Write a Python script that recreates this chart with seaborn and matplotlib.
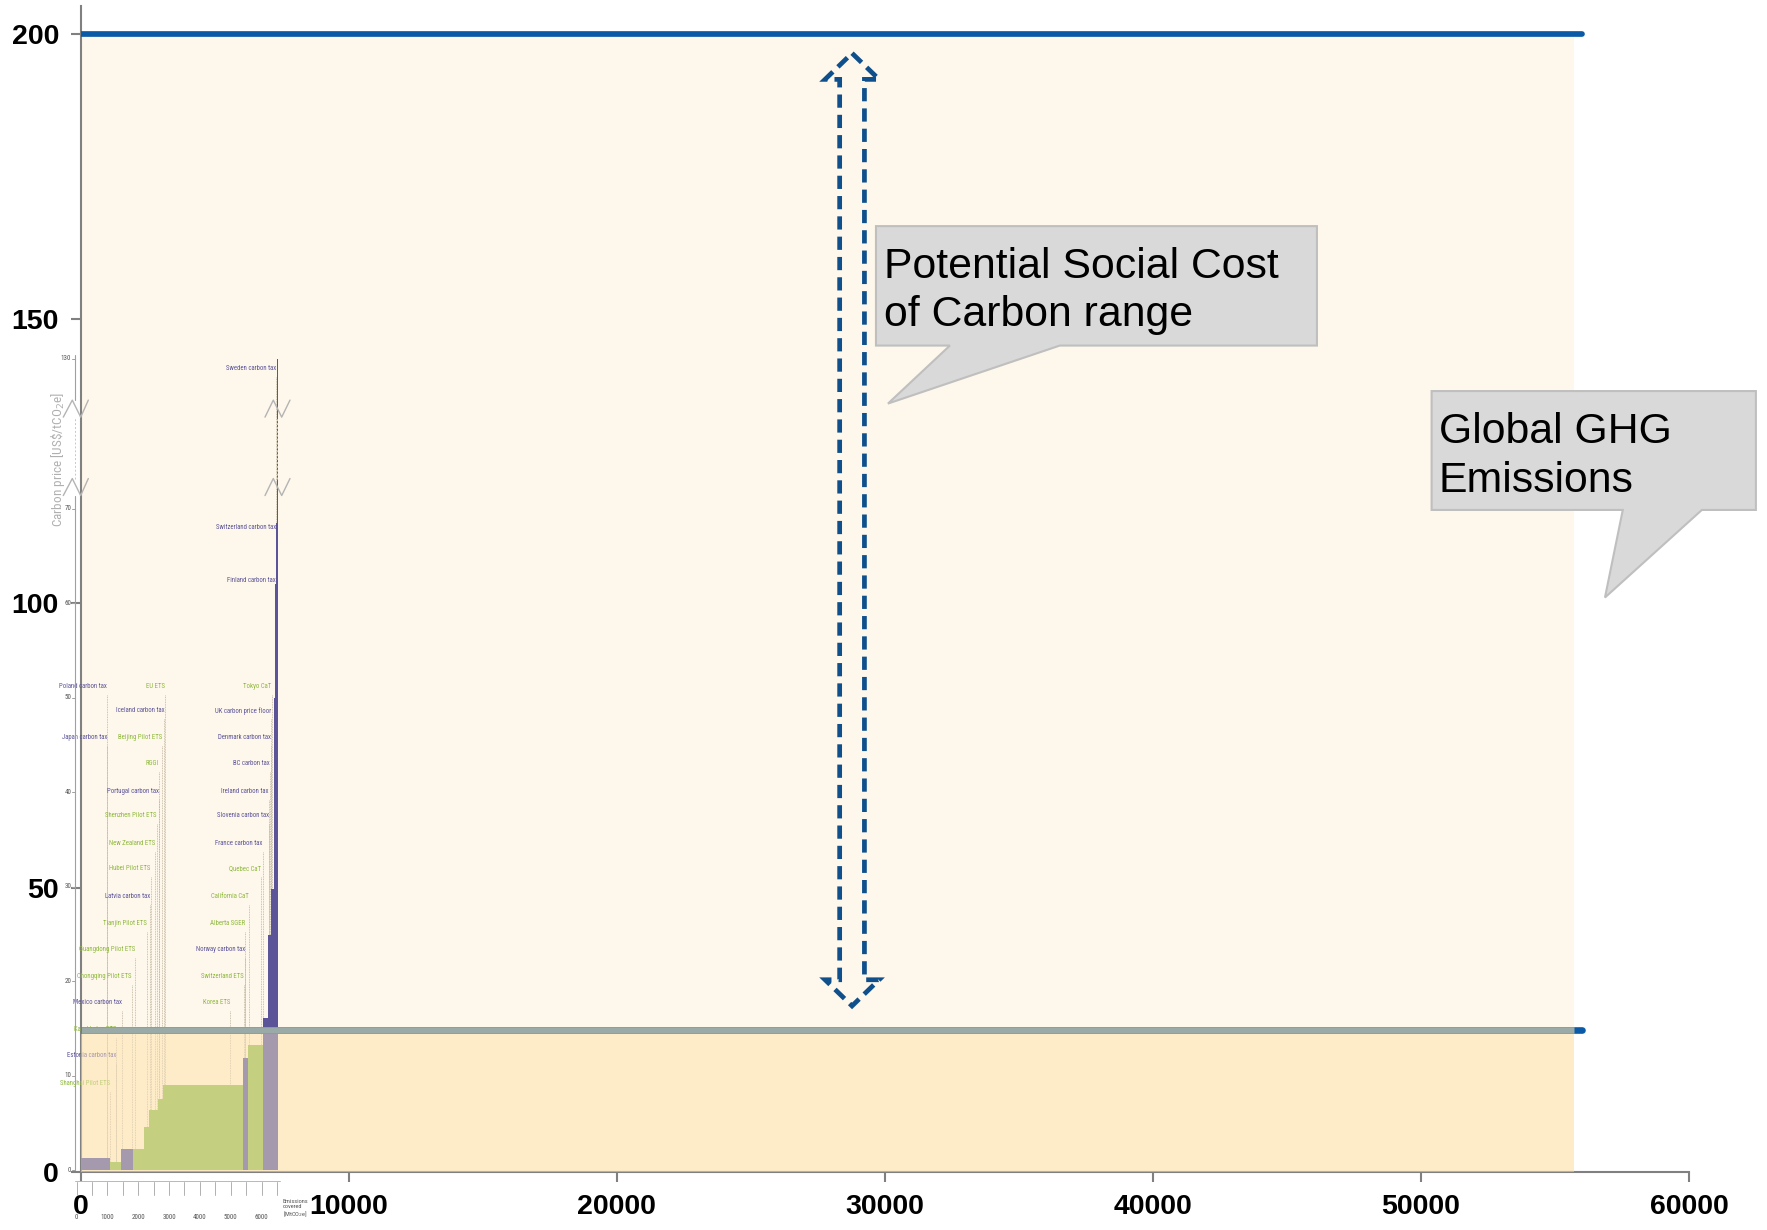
import numpy as np
import pandas as pd
import matplotlib
matplotlib.use("Agg")
import matplotlib.pyplot as plt
from matplotlib.patches import Polygon, Rectangle
import seaborn as sns

# ---------------- main chart values ----------------
x_ticks = [0, 10000, 20000, 30000, 40000, 50000, 60000]
y_ticks = [0, 50, 100, 150, 200]
global_ghg = 55700      # MtCO2e covered by the shaded bands
line_end = 56000
scc_high = 200          # US$/tCO2e
scc_low = 25
arrow_x = 28780
arrow_top = 196.7
arrow_bottom = 29.2
callout_texts = ["Potential Social Cost\nof Carbon range", "Global GHG\nEmissions"]

# ---------------- inset: carbon pricing initiatives ----------------
# emissions covered (MtCO2e, cumulative) and price (US$/tCO2e)
inset_start = [0, 1097, 1428, 1830, 2196, 2341, 2634, 2813, 5409, 5571,
               6038, 6220, 6307, 6400, 6437, 6457, 6493]
inset_end = [1097, 1428, 1830, 2196, 2341, 2634, 2813, 5409, 5571, 6038,
             6220, 6307, 6400, 6437, 6457, 6493, 6545]
inset_price = [1.3, 0.8, 2.2, 2.2, 4.5, 6.3, 7.5, 9.0, 11.9, 13.2,
               16.1, 24.9, 29.8, 50.0, 62.0, 68.5, 130.0]
inset_kind = ["tax", "ets", "tax", "ets", "ets", "ets", "ets", "ets", "tax", "ets",
              "tax", "tax", "tax", "tax", "tax", "tax", "tax"]

inset_labels = ["Sweden carbon tax", "Switzerland carbon tax", "Finland carbon tax",
                "Tokyo CaT", "UK carbon price floor", "Denmark carbon tax",
                "BC carbon tax", "Ireland carbon tax", "Slovenia carbon tax",
                "France carbon tax", "Quebec CaT", "California CaT", "Alberta SGER",
                "Norway carbon tax", "Switzerland ETS", "Korea ETS",
                "Poland carbon tax", "Japan carbon tax", "EU ETS", "Iceland carbon tax",
                "Beijing Pilot ETS", "RGGI", "Portugal carbon tax", "Shenzhen Pilot ETS",
                "New Zealand ETS", "Hubei Pilot ETS", "Latvia carbon tax",
                "Tianjin Pilot ETS", "Guangdong Pilot ETS", "Chongqing Pilot ETS",
                "Mexico carbon tax", "Kazakhstan ETS", "Estonia carbon tax",
                "Shanghai Pilot ETS"]
inset_label_kind = ["tax", "tax", "tax", "ets", "tax", "tax", "tax", "tax", "tax",
                    "tax", "ets", "ets", "ets", "tax", "ets", "ets",
                    "tax", "tax", "ets", "tax", "ets", "ets", "tax", "ets",
                    "ets", "ets", "tax", "ets", "ets", "ets", "tax", "ets", "tax", "ets"]
# label anchor (right end of the label) in inset coordinates
label_x = [6474, 6474, 6474, 6331, 6310, 6310, 6260, 6240, 6240, 6035, 5980,
           5590, 5480, 5460, 5430, 4980,
           988, 988, 2860, 2845, 2770, 2660, 2660, 2598, 2545, 2405,
           2380, 2270, 1890, 1790, 1464, 1281, 1281, 1098]
label_y = [84.8, 68.0, 62.4, 51.2, 48.6, 45.8, 43.0, 40.1, 37.5, 34.6, 31.9,
           29.0, 26.1, 23.3, 20.5, 17.7,
           51.2, 45.8, 51.2, 48.6, 45.8, 43.0, 40.1, 37.5, 34.6, 31.9,
           29.0, 26.1, 23.3, 20.5, 17.7, 14.9, 12.1, 9.2]
inset_yticks = [0, 10, 20, 30, 40, 50, 60, 70, 130]
inset_xticks = [0, 1000, 2000, 3000, 4000, 5000, 6000]

# inset placement inside the main axes
INSET_X0, INSET_SX = -145.5, 1.1496
INSET_Y0, INSET_SY = 0.3515, 1.6608

TAX_COLOR = "#5B5499"
ETS_COLOR = "#94B943"
SMALL_FONT = ["Roboto Condensed", "Liberation Sans Narrow", "Liberation Sans"]


def disp(p):
    p = np.asarray(p, dtype=float)
    return np.where(p <= 72, p, 85.9 + (p - 130.0))


def ix(v):
    return INSET_X0 + INSET_SX * np.asarray(v, dtype=float)


def iy(d):
    return INSET_Y0 + INSET_SY * np.asarray(d, dtype=float)


sns.set_theme(style="ticks")
plt.rcParams["font.family"] = ["Liberation Sans", "DejaVu Sans"]

fig = plt.figure(figsize=(17.67, 12.3), dpi=100)
ax = fig.add_axes([0.04556, 0.04715, 0.91030, 0.94797])

# background bands
ax.add_patch(Rectangle((0, scc_low), global_ghg, scc_high - scc_low,
                       facecolor="#FEF7EB", edgecolor="none", zorder=0))
ax.add_patch(Rectangle((0, 0), global_ghg, scc_low,
                       facecolor="#FEEBC8", edgecolor="none", zorder=0))

# ---------------- inset drawing ----------------
df_in = pd.DataFrame({"start": inset_start, "end": inset_end,
                      "price": inset_price, "kind": inset_kind})
df_in["d"] = disp(df_in["price"])
bar_cols = [TAX_COLOR if k == "tax" else ETS_COLOR for k in df_in["kind"]]
ax.bar(ix(df_in["start"]), iy(df_in["d"]) - iy(0), width=ix(df_in["end"]) - ix(df_in["start"]),
       bottom=iy(0), align="edge", color=bar_cols, linewidth=0, zorder=3)

for name, kind, lx, ly in zip(inset_labels, inset_label_kind, label_x, label_y):
    pos = np.searchsorted(df_in["end"].values, lx)
    pos = min(pos, len(df_in) - 1)
    h = df_in["d"].values[pos]
    ax.plot([ix(lx), ix(lx)], [iy(ly - 0.9), iy(min(h, ly - 0.9))], ls=(0, (1, 1)),
            lw=0.6, color="#BDB29C", zorder=2)
    ax.text(ix(lx), iy(ly), name, ha="right", va="center", fontsize=4.9,
            color=TAX_COLOR if kind == "tax" else "#8DB83A", zorder=4,
            family=SMALL_FONT)

# inset y axis with break
ax_col = "#A0A0A0"
ax.plot([ix(-55)] * 2, [iy(0), iy(71.4)], color=ax_col, lw=0.8, zorder=4, clip_on=False)
ax.plot([ix(-55)] * 2, [iy(81.5), iy(86.3)], color=ax_col, lw=0.8, zorder=4, clip_on=False)
ax.plot([ix(-55)] * 2, [iy(73.2), iy(79.7)], color="#C8C8C8", lw=0.7, ls=(0, (2, 2)), zorder=4,
        clip_on=False)
ax.plot([ix(6490)] * 2, [iy(73.2), iy(79.7)], color="#C8C8C8", lw=0.7, ls=(0, (2, 2)), zorder=4)
for t in inset_yticks:
    ax.plot([ix(-140), ix(-55)], [iy(disp(t))] * 2, color=ax_col, lw=0.7, zorder=4, clip_on=False)
    ax.text(ix(-175), iy(disp(t)), str(t), ha="right", va="center", fontsize=5.0,
            color="#555555", zorder=4, clip_on=False, family=SMALL_FONT)
for lo, hi in [(71.4, 73.2), (79.7, 81.5)]:
    for xs in ([-432, -140, 133, 380], [6113, 6382, 6655, 6924]):
        ax.plot(ix(xs), iy([lo, hi, lo, hi]), color="#B4B4B4", lw=1.0, zorder=4,
                clip_on=False)
ax.text(ix(-600), iy(75.2), r"Carbon price [US\$/tCO$_2$e]", rotation=90, ha="center",
        va="center", fontsize=9.5, color="#B0B0B0", zorder=4, clip_on=False,
        family=SMALL_FONT)

# inset x axis (below the main axis)
ax.plot(ix([-55, 6600]), iy([-1.16, -1.16]), color="#B8B8B8", lw=0.7, clip_on=False)
for t in range(0, 6501, 500):
    ax.plot([ix(t)] * 2, iy([-1.3, -2.6]), color="#B0B0B0", lw=0.7, clip_on=False)
for t in inset_xticks:
    ax.text(ix(t), iy(-5.0), str(t), ha="center", va="center", fontsize=5.0,
            color="#555555", clip_on=False, family=SMALL_FONT)
ax.text(ix(6697), iy(-4.1), "Emissions\ncovered\n[MtCO$_2$e]", ha="left", va="center",
        fontsize=4.6, color="#555555", clip_on=False, linespacing=1.0, family=SMALL_FONT)

# tint of the low band over the inset
ax.add_patch(Rectangle((0, 0), global_ghg, scc_low, facecolor="#FEEBC8",
                       edgecolor="none", alpha=0.46, zorder=5))

# ---------------- SCC lines ----------------
lines = pd.DataFrame({"x": [0, line_end, 0, line_end],
                      "y": [scc_high, scc_high, scc_low, scc_low],
                      "g": ["high", "high", "low", "low"]})
sns.lineplot(data=lines[lines.g == "high"], x="x", y="y", color="#0B5AA8", lw=4.1,
             estimator=None, ax=ax, zorder=6, solid_capstyle="round")
sns.lineplot(data=lines[lines.g == "low"], x="x", y="y", color="#0B5AA8", lw=4.8,
             estimator=None, ax=ax, zorder=6, solid_capstyle="round")
ax.plot([0, global_ghg], [scc_low, scc_low], color="#9AAAA6", lw=4.8,
        solid_capstyle="butt", zorder=6)

# dashed double arrow (range of the social cost of carbon)
hw, HW, hh = 462, 1007, 4.6
arrow_pts = [(arrow_x, arrow_top), (arrow_x + HW, arrow_top - hh), (arrow_x + hw, arrow_top - hh),
             (arrow_x + hw, arrow_bottom + hh), (arrow_x + HW, arrow_bottom + hh),
             (arrow_x, arrow_bottom), (arrow_x - HW, arrow_bottom + hh),
             (arrow_x - hw, arrow_bottom + hh), (arrow_x - hw, arrow_top - hh),
             (arrow_x - HW, arrow_top - hh)]
ax.add_patch(Polygon(arrow_pts, closed=True, fill=False, edgecolor="#0E4F8C", lw=3.4,
                     ls=(0, (2.8, 1.5)), joinstyle="miter", zorder=7))


# callouts
def callout(x0, x1, y0, y1, tl, tr, tip):
    pts = [(x0, y1), (x1, y1), (x1, y0), (tr, y0), tip, (tl, y0), (x0, y0)]
    return Polygon(pts, closed=True, facecolor="#D9D9D9", edgecolor="#BFBFBF",
                   lw=1.5, zorder=8, clip_on=False)


ax.add_patch(callout(29672, 46121, 145.3, 166.3, 32430, 36530, (30120, 135.1)))
ax.add_patch(callout(50399, 62495, 116.4, 137.3, 57530, 60480, (56865, 101.0)))
ax.text(29960, 148.7, callout_texts[0], fontsize=30.8, color="black", ha="left",
        va="baseline", zorder=9, linespacing=1.27)
ax.text(50660, 119.6, callout_texts[1], fontsize=30.8, color="black", ha="left",
        va="baseline", zorder=9, linespacing=1.27, clip_on=False)

# axes styling
ax.set_xlim(0, 60000)
ax.set_ylim(0, 205)
ax.set_xticks(x_ticks)
ax.set_yticks(y_ticks)
ax.set_xticklabels([str(t) for t in x_ticks])
ax.set_yticklabels([str(t) for t in y_ticks])
ax.set_xlabel("")
ax.set_ylabel("")
for lab in ax.get_xticklabels() + ax.get_yticklabels():
    lab.set_fontweight("bold")
    lab.set_fontsize(20.5)
    lab.set_color("black")
ax.tick_params(axis="y", length=7, width=1.5, color="#808080", pad=8.5)
ax.tick_params(axis="x", length=7, width=1.5, color="#808080", pad=8.5)
for s in ["top", "right"]:
    ax.spines[s].set_visible(False)
for s in ["left", "bottom"]:
    ax.spines[s].set_color("#808080")
    ax.spines[s].set_linewidth(1.5)
ax.set_facecolor("white")
ax.grid(False)
if ax.get_legend() is not None:
    ax.get_legend().remove()

fig.savefig("out.png", dpi=100)
